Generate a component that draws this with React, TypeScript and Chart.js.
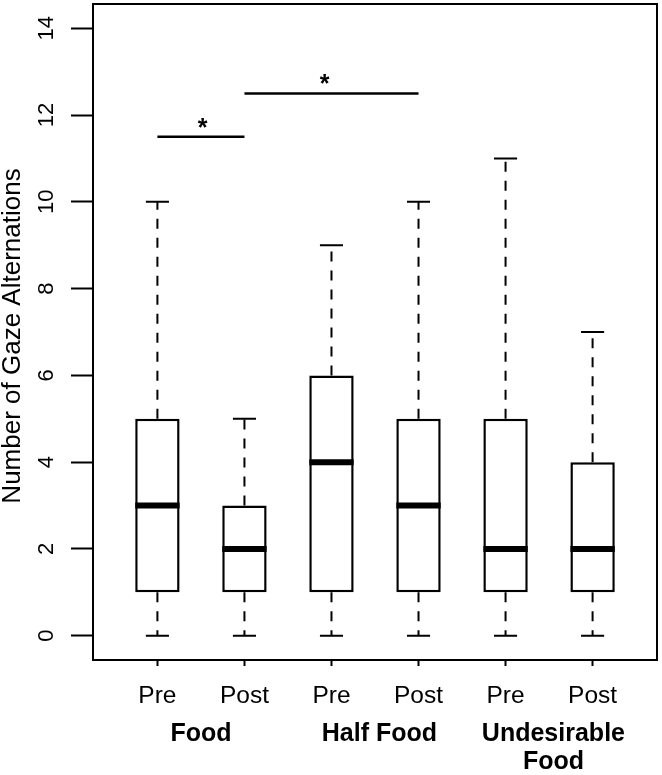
import React, { useEffect, useRef } from 'react';
import { Chart, registerables } from 'chart.js';

Chart.register(...registerables);

// ---- data ----
const positions = [1, 2, 3, 4, 5, 6];
const tickLabels = ['Pre', 'Post', 'Pre', 'Post', 'Pre', 'Post'];
const groupCenters = [1.5, 3.55, 5.55];
const groupLabels = [['Food'], ['Half Food'], ['Undesirable', 'Food']];
const whiskerLow = [0, 0, 0, 0, 0, 0];
const q1 = [1, 1, 1, 1, 1, 1];
const medians = [3, 2, 4, 3, 2, 2];
const q3 = [5, 3, 6, 5, 5, 4];
const whiskerHigh = [10, 5, 9, 10, 11, 7];
const yTicks = [0, 2, 4, 6, 8, 10, 12, 14];
const sigFrom = [1, 2];
const sigTo = [2, 4];
const sigY = [11.5, 12.5];
const sigStarX = [1.52, 2.92];
const sigMark = '*';
const yTitle = 'Number of Gaze Alternations';

const FONT = '"Liberation Sans", Arial, Helvetica, sans-serif';

const boxPlugin = {
  id: 'boxExtras',
  afterDatasetsDraw(chart: any) {
    const ctx = chart.ctx;
    const xs = chart.scales.x;
    const ys = chart.scales.y;
    const meta = chart.getDatasetMeta(0);
    ctx.save();
    ctx.strokeStyle = '#000';
    ctx.lineCap = 'butt';
    meta.data.forEach((bar: any, i: number) => {
      const x = xs.getPixelForValue(positions[i]);
      const half = bar.width / 2;
      const yLo = ys.getPixelForValue(whiskerLow[i]);
      const yQ1 = ys.getPixelForValue(q1[i]);
      const yMed = ys.getPixelForValue(medians[i]);
      const yQ3 = ys.getPixelForValue(q3[i]);
      const yHi = ys.getPixelForValue(whiskerHigh[i]);
      // whiskers
      ctx.lineWidth = 2;
      ctx.setLineDash([10, 9]);
      ctx.beginPath();
      ctx.moveTo(x, yQ3);
      ctx.lineTo(x, yHi);
      ctx.stroke();
      ctx.beginPath();
      ctx.moveTo(x, yQ1);
      ctx.lineTo(x, yLo);
      ctx.stroke();
      ctx.setLineDash([]);
      // staples
      const sw = half * 0.52;
      ctx.beginPath();
      ctx.moveTo(x - sw, yHi);
      ctx.lineTo(x + sw, yHi);
      ctx.moveTo(x - sw, yLo);
      ctx.lineTo(x + sw, yLo);
      ctx.stroke();
      // median
      ctx.lineWidth = 6;
      ctx.beginPath();
      ctx.moveTo(x - half, yMed);
      ctx.lineTo(x + half, yMed);
      ctx.stroke();
    });
    // significance lines
    ctx.lineWidth = 2.5;
    ctx.fillStyle = '#000';
    ctx.font = `bold 25px ${FONT}`;
    ctx.textAlign = 'center';
    ctx.textBaseline = 'alphabetic';
    sigY.forEach((v, i) => {
      const y = ys.getPixelForValue(v);
      ctx.beginPath();
      ctx.moveTo(xs.getPixelForValue(sigFrom[i]), y);
      ctx.lineTo(xs.getPixelForValue(sigTo[i]), y);
      ctx.stroke();
      ctx.fillText(sigMark, xs.getPixelForValue(sigStarX[i]), y - 1);
    });
    ctx.restore();
  },
  afterDraw(chart: any) {
    const ctx = chart.ctx;
    const a = chart.chartArea;
    const ys = chart.scales.y;
    ctx.save();
    ctx.strokeStyle = '#000';
    ctx.lineWidth = 2;
    ctx.strokeRect(a.left, a.top, a.right - a.left, a.bottom - a.top);
    ctx.fillStyle = '#000';
    ctx.textAlign = 'center';
    ctx.textBaseline = 'alphabetic';
    ctx.font = `22px ${FONT}`;
    ys.ticks.forEach((t: any) => {
      const py = ys.getPixelForValue(t.value);
      ctx.save();
      ctx.translate(52.5, py);
      ctx.rotate(-Math.PI / 2);
      ctx.fillText(String(t.value), 0, 0);
      ctx.restore();
    });
    ctx.font = `26px ${FONT}`;
    ctx.save();
    ctx.translate(20, (a.top + a.bottom) / 2 + 4);
    ctx.rotate(-Math.PI / 2);
    ctx.fillText(yTitle, 0, 0);
    ctx.restore();
    ctx.restore();
  },
};

export default function App() {
  const ref = useRef<HTMLCanvasElement | null>(null);
  useEffect(() => {
    document.body.style.margin = '0';
    if (!ref.current) return;
    const chart = new Chart(ref.current, {
      type: 'bar',
      data: {
        datasets: [
          {
            data: positions.map((p, i) => ({ x: p, y: [q1[i], q3[i]] })) as any,
            backgroundColor: '#fff',
            borderColor: '#000',
            borderWidth: 2.5,
            borderSkipped: false,
            categoryPercentage: 1,
            barPercentage: 0.51,
          },
        ],
      },
      options: {
        responsive: false,
        animation: false,
        devicePixelRatio: 1,
        layout: { padding: { top: 4, right: 5, left: 0, bottom: 0 } },
        plugins: { legend: { display: false }, tooltip: { enabled: false } },
        scales: {
          x: {
            type: 'linear',
            min: 0.26,
            max: 6.74,
            offset: false,
            position: 'bottom',
            weight: 0,
            afterBuildTicks: (s: any) => {
              s.ticks = positions.map((v) => ({ value: v }));
            },
            afterFit: (s: any) => {
              s.height = 60;
            },
            grid: {
              display: true,
              drawOnChartArea: false,
              drawTicks: true,
              tickLength: 6,
              tickWidth: 2,
              tickColor: '#000',
              offset: false,
            },
            border: { display: true, color: '#000', width: 2 },
            ticks: {
              autoSkip: false,
              maxRotation: 0,
              minRotation: 0,
              padding: 16,
              color: '#000',
              font: { family: FONT, size: 24.5 },
              callback: (_v: any, i: number) => tickLabels[i],
            },
          },
          x2: {
            type: 'linear',
            min: 0.26,
            max: 6.74,
            offset: false,
            position: 'bottom',
            weight: 1,
            afterBuildTicks: (s: any) => {
              s.ticks = groupCenters.map((v) => ({ value: v }));
            },
            afterFit: (s: any) => {
              s.height = 55;
            },
            grid: { display: false, drawTicks: false, drawOnChartArea: false },
            border: { display: false },
            ticks: {
              autoSkip: false,
              maxRotation: 0,
              minRotation: 0,
              padding: 0,
              color: '#000',
              font: { family: FONT, size: 25, weight: 'bold', lineHeight: 1.13 },
              callback: (_v: any, i: number) => groupLabels[i],
            },
          },
          y: {
            type: 'linear',
            min: -0.56,
            max: 14.56,
            afterBuildTicks: (s: any) => {
              s.ticks = yTicks.map((v) => ({ value: v }));
            },
            afterFit: (s: any) => {
              s.width = 93;
            },
            grid: {
              drawOnChartArea: false,
              drawTicks: true,
              tickLength: 22,
              tickWidth: 2,
              tickColor: '#000',
            },
            border: { display: true, color: '#000', width: 2 },
            ticks: { display: false },
          },
        },
      } as any,
      plugins: [boxPlugin],
    });
    return () => chart.destroy();
  }, []);
  return (
    <div style={{ width: 662, height: 775, background: '#fff' }}>
      <canvas ref={ref} width={662} height={775} style={{ display: 'block' }} />
    </div>
  );
}
